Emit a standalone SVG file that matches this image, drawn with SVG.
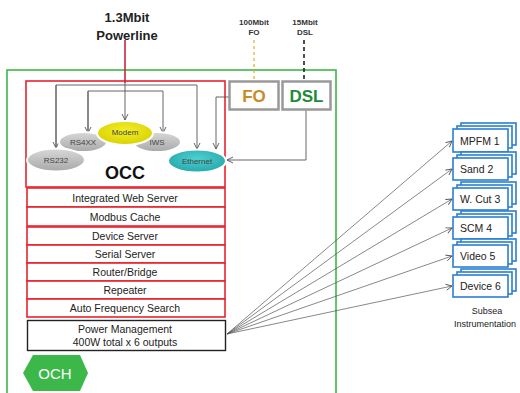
<svg xmlns="http://www.w3.org/2000/svg" width="520" height="393" viewBox="0 0 520 393">
<style>
text{font-family:"Liberation Sans",Arial,sans-serif}
.row{fill:#fff;stroke:#e8232f;stroke-width:1.6}
.rt{font-size:10.5px;text-anchor:middle;fill:#222}
.ell{stroke:#fff;stroke-width:2}
.et{font-size:8px;text-anchor:middle;fill:#444}
.con{fill:none;stroke:#555;stroke-width:0.9}
.fan{fill:none;stroke:#555;stroke-width:0.7}
.dev{fill:#fff;stroke:#2a7fd0;stroke-width:1.6}
.dt{font-size:10.5px;fill:#222}
.lbl{font-size:8px;text-anchor:middle;font-weight:bold;fill:#333}
.ttl{font-size:13px;font-weight:bold;text-anchor:middle;fill:#222}
.box{font-size:17px;font-weight:bold;text-anchor:middle}
</style>
<defs>
<marker id="ah" markerWidth="8" markerHeight="8" refX="7" refY="4" orient="auto" markerUnits="userSpaceOnUse">
<path d="M1,1 L7,4 L1,7" fill="none" stroke="#555" stroke-width="0.9"/>
</marker>
<linearGradient id="grey" x1="0" y1="0" x2="0" y2="1"><stop offset="0" stop-color="#d8d8d8"/><stop offset="1" stop-color="#a8a8a8"/></linearGradient>
<radialGradient id="yel" cx="0.5" cy="0.4" r="0.6"><stop offset="0" stop-color="#f2ee2a"/><stop offset="1" stop-color="#d9d200"/></radialGradient>
<radialGradient id="teal" cx="0.5" cy="0.4" r="0.6"><stop offset="0" stop-color="#4fcfd0"/><stop offset="1" stop-color="#26a9ac"/></radialGradient>
</defs>

<g id="och-frame"><rect x="7" y="70" width="329" height="340" fill="none" stroke="#3cb84a" stroke-width="1.6"/></g>

<g id="title">
<text x="127" y="22" class="ttl">1.3Mbit</text>
<text x="127" y="40" class="ttl">Powerline</text>
</g>
<g id="fo-label"><text x="254" y="25" class="lbl">100Mbit</text><text x="254" y="35" class="lbl">FO</text></g>
<g id="dsl-label"><text x="305" y="25" class="lbl">15Mbit</text><text x="305" y="35" class="lbl">DSL</text></g>

<g id="occ"><rect x="26" y="81" width="199" height="106" class="row"/>
<text x="125" y="179" style="font-size:18px;font-weight:bold;text-anchor:middle;fill:#111">OCC</text></g>

<g id="connectors">
<line x1="125" y1="40" x2="125" y2="83" stroke="#d0223a" stroke-width="1.6"/>
<line x1="125" y1="83" x2="125" y2="120" class="con" marker-end="url(#ah)"/>
<polyline points="56,148 56,85 197,85 197,149" class="con" marker-end="url(#ah)"/>
<line x1="56" y1="85" x2="56" y2="148" class="con" marker-end="url(#ah)"/>
<polyline points="88,133 88,91 163,91 163,133" class="con" marker-end="url(#ah)"/>
<line x1="88" y1="91" x2="88" y2="133" class="con" marker-end="url(#ah)"/>
<polyline points="229,97 216,97 216,149" class="con" marker-end="url(#ah)"/>
<polyline points="306,110 306,160 227,160" class="con" marker-end="url(#ah)"/>
<line x1="254" y1="40" x2="254" y2="81" stroke="#e8a820" stroke-width="1.2" stroke-dasharray="3,3"/>
<line x1="304" y1="40" x2="304" y2="81" stroke="#222" stroke-width="1.6" stroke-dasharray="4,3"/>
<line x1="227" y1="334" x2="452" y2="141" class="fan" marker-end="url(#ah)"/>
<line x1="227" y1="334" x2="452" y2="169" class="fan" marker-end="url(#ah)"/>
<line x1="227" y1="334" x2="452" y2="199" class="fan" marker-end="url(#ah)"/>
<line x1="227" y1="334" x2="452" y2="228" class="fan" marker-end="url(#ah)"/>
<line x1="227" y1="334" x2="452" y2="256" class="fan" marker-end="url(#ah)"/>
<line x1="227" y1="334" x2="452" y2="286" class="fan" marker-end="url(#ah)"/>
</g>

<g id="rs4xx"><ellipse cx="83" cy="142" rx="24" ry="10" fill="url(#grey)" class="ell"/><text x="83" y="145" class="et">RS4XX</text></g>
<g id="iws"><ellipse cx="157" cy="142" rx="24" ry="10" fill="url(#grey)" class="ell"/><text x="157" y="145" class="et">IWS</text></g>
<g id="modem"><ellipse cx="125" cy="133" rx="28" ry="12" fill="url(#yel)" class="ell"/><text x="125" y="135" class="et">Modem</text></g>
<g id="rs232"><ellipse cx="56" cy="160" rx="29" ry="11.5" fill="url(#grey)" class="ell"/><text x="56" y="163" class="et">RS232</text></g>
<g id="ethernet"><ellipse cx="197" cy="161" rx="29" ry="11.5" fill="url(#teal)" class="ell"/><text x="197" y="164" class="et">Ethernet</text></g>

<g id="fo"><rect x="229.5" y="81.5" width="49" height="28" fill="#fff" stroke="#999" stroke-width="2.5"/><text x="254" y="102" class="box" style="fill:#c98a2a">FO</text></g>
<g id="dsl"><rect x="282.5" y="81.5" width="48" height="28" fill="#fff" stroke="#999" stroke-width="2.5"/><text x="306.5" y="102" class="box" style="fill:#1e8a3a">DSL</text></g>

<g id="iws-row"><rect x="27" y="188" width="198" height="19" class="row"/><text x="125" y="201.5" class="rt">Integrated Web Server</text></g>
<g id="modbus"><rect x="27" y="207" width="198" height="19" class="row"/><text x="125" y="220.5" class="rt">Modbus Cache</text></g>
<g id="device-server"><rect x="27" y="227" width="198" height="18" class="row"/><text x="125" y="240" class="rt">Device Server</text></g>
<g id="serial"><rect x="27" y="245" width="198" height="18" class="row"/><text x="125" y="258" class="rt">Serial Server</text></g>
<g id="router"><rect x="27" y="263" width="198" height="18" class="row"/><text x="125" y="276" class="rt">Router/Bridge</text></g>
<g id="repeater"><rect x="27" y="281" width="198" height="18" class="row"/><text x="125" y="294" class="rt">Repeater</text></g>
<g id="afs"><rect x="27" y="299" width="198" height="18" class="row"/><text x="125" y="312" class="rt">Auto Frequency Search</text></g>
<g id="power"><rect x="27.5" y="320.5" width="198" height="30" fill="#fff" stroke="#222" stroke-width="1.4"/>
<text x="125" y="333" class="rt">Power Management</text><text x="125" y="346" class="rt">400W total  x 6 outputs</text></g>

<g id="och"><polygon points="23,373 33,355 80,355 88,373 80,391 33,391" fill="#3cb84a"/><text x="55" y="379" style="font-size:15px;text-anchor:middle;fill:#fff">OCH</text></g>

<g id="mpfm1"><rect x="461" y="123" width="55" height="22" class="dev"/><rect x="457" y="126" width="55" height="22" class="dev"/><rect x="453" y="129" width="55" height="23" class="dev"/><text x="460" y="145" class="dt">MPFM 1</text></g>
<g id="sand2"><rect x="461" y="152" width="55" height="22" class="dev"/><rect x="457" y="155" width="55" height="22" class="dev"/><rect x="453" y="158" width="55" height="22" class="dev"/><text x="460" y="173" class="dt">Sand 2</text></g>
<g id="wcut3"><rect x="461" y="182" width="55" height="22" class="dev"/><rect x="457" y="185" width="55" height="22" class="dev"/><rect x="453" y="188" width="55" height="22" class="dev"/><text x="460" y="203" class="dt">W. Cut 3</text></g>
<g id="scm4"><rect x="461" y="211" width="55" height="22" class="dev"/><rect x="457" y="214" width="55" height="22" class="dev"/><rect x="453" y="217" width="55" height="22" class="dev"/><text x="460" y="232" class="dt">SCM 4</text></g>
<g id="video5"><rect x="461" y="239" width="55" height="22" class="dev"/><rect x="457" y="242" width="55" height="22" class="dev"/><rect x="453" y="245" width="55" height="22" class="dev"/><text x="460" y="260" class="dt">Video 5</text></g>
<g id="device6"><rect x="461" y="269" width="55" height="22" class="dev"/><rect x="457" y="272" width="55" height="22" class="dev"/><rect x="453" y="275" width="55" height="22" class="dev"/><text x="460" y="290" class="dt">Device 6</text></g>
<g id="subsea-label"><text x="487" y="314" style="font-size:9px;text-anchor:middle;fill:#222">Subsea</text><text x="485" y="327" style="font-size:9px;text-anchor:middle;fill:#222">Instrumentation</text></g>
</svg>
